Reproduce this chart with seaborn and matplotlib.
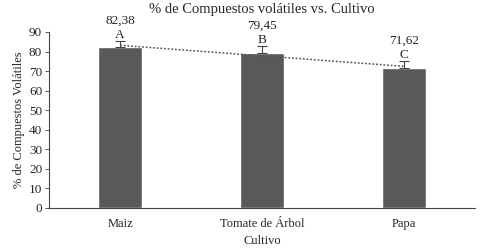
import numpy as np
import pandas as pd
import seaborn as sns
from matplotlib import pyplot as plt

cultivos = ["Maiz", "Tomate de Árbol", "Papa"]
volatiles = [82.38, 79.45, 71.62]
error_sup = [3.0, 3.4, 3.5]
letras = ["A", "B", "C"]
etiquetas = ["82,38", "79,45", "71,62"]

sns.set_style("white")
plt.rcParams["font.family"] = ["Liberation Serif", "DejaVu Serif"]

df = pd.DataFrame({"Cultivo": cultivos, "Volatiles": volatiles})

fig = plt.figure(figsize=(4.82, 2.5), dpi=100)
ax = fig.add_axes([0.102, 0.168, 0.883, 0.704])

sns.barplot(data=df, x="Cultivo", y="Volatiles", color="#595959",
            width=0.31, saturation=1, errorbar=None, ax=ax)

# error bars only upward
ax.errorbar(range(len(cultivos)), volatiles,
            yerr=[np.zeros(len(error_sup)), error_sup],
            fmt="none", ecolor="#444444", elinewidth=0.8, capsize=3.5, capthick=0.8)

# linear trend line
xs = np.arange(len(cultivos))
m, b = np.polyfit(xs, volatiles, 1)
ax.plot(xs, m * xs + b, linestyle=(0, (1.2, 1.2)), color="#555555", linewidth=1.1)

for i, (v, e) in enumerate(zip(volatiles, error_sup)):
    ax.annotate(letras[i], (i, v + e), xytext=(0, 0), textcoords="offset points",
                ha="center", va="bottom", fontsize=9.5)
    ax.annotate(etiquetas[i], (i, v + e), xytext=(0, 10), textcoords="offset points",
                ha="center", va="bottom", fontsize=9.5)

ax.set_ylim(0, 90)
ax.set_yticks(range(0, 91, 10))
ax.set_xlim(-0.5, 2.5)
ax.tick_params(axis="y", length=3, width=0.6, color="#444444", labelsize=9.5, pad=2, left=True)
ax.tick_params(axis="x", length=0, labelsize=9, pad=7)
sns.despine(ax=ax)
for s in ["left", "bottom"]:
    ax.spines[s].set_color("#444444")
    ax.spines[s].set_linewidth(0.8)

ax.set_title("% de Compuestos volátiles vs. Cultivo", fontsize=10.5, pad=14)
ax.set_xlabel("Cultivo", fontsize=9, labelpad=4)
ax.set_ylabel("% de Compuestos Volátiles", fontsize=9, labelpad=3)

fig.savefig("out.png", dpi=100)
